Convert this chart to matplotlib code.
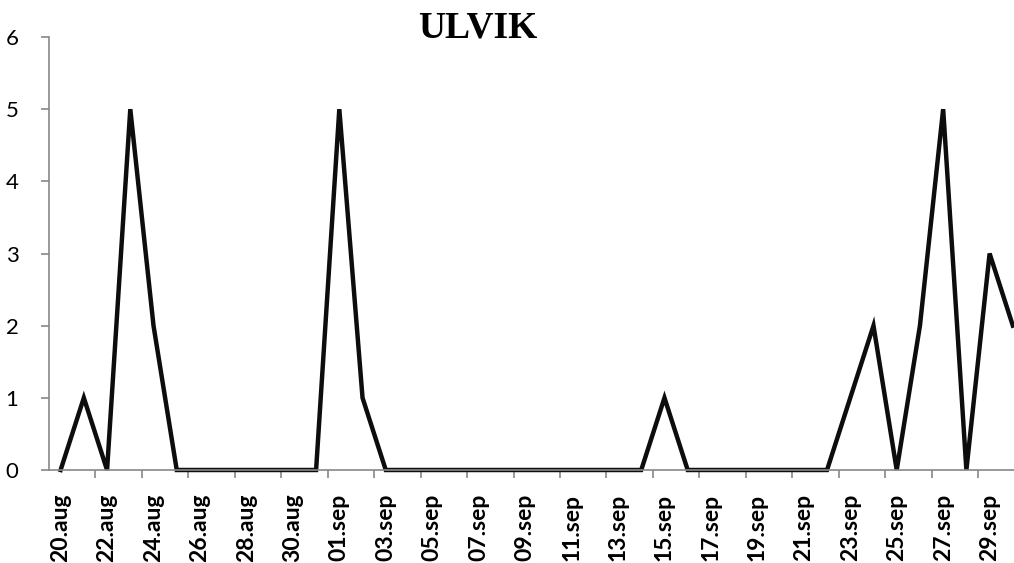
import matplotlib
matplotlib.use("Agg")
import matplotlib.pyplot as plt
import numpy as np

dates = ["20.aug", "21.aug", "22.aug", "23.aug", "24.aug", "25.aug", "26.aug", "27.aug",
         "28.aug", "29.aug", "30.aug", "31.aug", "01.sep", "02.sep", "03.sep", "04.sep",
         "05.sep", "06.sep", "07.sep", "08.sep", "09.sep", "10.sep", "11.sep", "12.sep",
         "13.sep", "14.sep", "15.sep", "16.sep", "17.sep", "18.sep", "19.sep", "20.sep",
         "21.sep", "22.sep", "23.sep", "24.sep", "25.sep", "26.sep", "27.sep", "28.sep",
         "29.sep", "30.sep"]
values = [0, 1, 0, 5, 2, 0, 0, 0, 0, 0, 0, 0, 5, 1, 0, 0, 0, 0, 0, 0, 0, 0, 0, 0,
          0, 0, 1, 0, 0, 0, 0, 0, 0, 0, 1, 2, 0, 2, 5, 0, 3, 2]
title = "ULVIK"

fig = plt.figure(figsize=(10.14, 5.63), dpi=100)
ax = fig.add_axes([49/1014, 93/563, 1 - 49/1014, 433/563])
x = np.arange(len(dates))
ax.plot(x, values, color="#0d0d0d", lw=3.2, solid_joinstyle="miter", clip_on=False)

ax.set_yticks(range(0, 7))
ax.set_yticklabels([str(v) for v in range(0, 7)], fontsize=16, family="Lato")
ax.set_xticks(x[::2])
ax.set_xticklabels(dates[::2], rotation=90, fontsize=16.5, fontweight="bold", family="Lato")
ax.set_xticks(np.arange(1.5, len(dates) - 1, 2), minor=True)
ax.set_xlim(-0.5, 41.05)
ax.set_ylim(0, 6)
ax.tick_params(axis="x", which="major", length=0, pad=17)
ax.tick_params(axis="x", which="minor", length=6, color="#888888", width=1.2)
ax.tick_params(axis="y", length=6, color="#888888", width=1.2, pad=16)
for s in ["top", "right"]:
    ax.spines[s].set_visible(False)
for s in ["left", "bottom"]:
    ax.spines[s].set_color("#888888")
    ax.spines[s].set_linewidth(1.2)
fig.text(478/1014, 1 - 28/563, title, ha="center", va="center", fontsize=27,
         fontweight="bold", family="Liberation Serif")
fig.savefig("out.png", dpi=100)
